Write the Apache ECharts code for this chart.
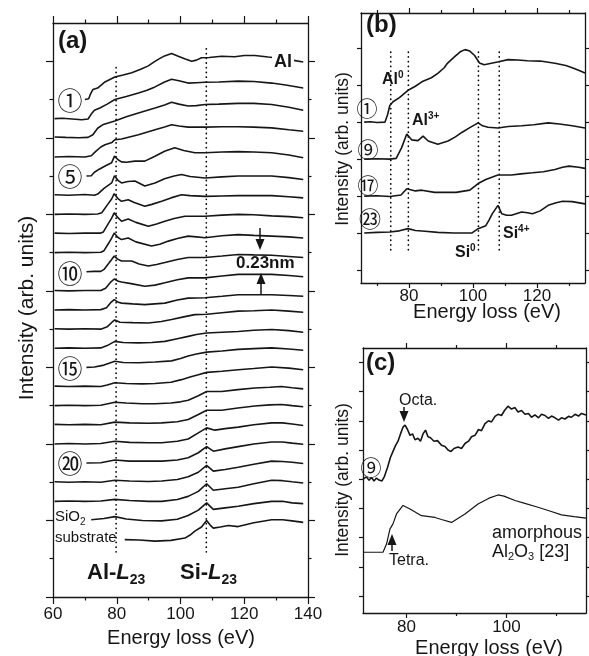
<!DOCTYPE html>
<html>
<head>
<meta charset="utf-8">
<script src="https://cdn.jsdelivr.net/npm/echarts@6/dist/echarts.min.js"></script>
<style>
html, body { margin: 0; padding: 0; background: #fff; }
#chart { width: 589px; height: 656px; }
</style>
</head>
<body>
<div id="chart"></div>
<script>
// energy loss (eV) / relative intensity
// (a) layer-by-layer spectra, top (1) to bottom (substrate)
var a01 = [[70,0],[71.2,0.02],[71.8,0.15],[72.5,0.26],[74,0.3],[76.3,0.46],[79.4,0.59],[82,0.64],[84.7,0.7],[87.5,0.79],[89.9,0.88],[91.5,0.97],[93,1.05],[95,1.14],[97.2,1.2],[99.3,1.13],[101.5,1.06],[103.5,1.0],[105,1.03],[106.6,1.09],[109,1.1],[112.9,1.13],[117,1.12],[120,1.15],[123.3,1.15],[127.5,1.11],[131,1.08],[135,1.03],[138.5,0.98]];
var a02 = [[60.5,0],[63,0.01],[66,-0.01],[69,-0.03],[71,-0.01],[72,0.12],[73,0.22],[74.7,0.28],[77,0.38],[79.4,0.5],[83,0.58],[86.8,0.67],[89.5,0.74],[92,0.83],[95,0.96],[97.2,1.03],[99.5,0.99],[102.4,0.93],[105,0.94],[107.7,0.95],[112,0.96],[118.1,0.98],[123,0.97],[128.6,0.93],[133,0.88],[138.5,0.8]];
var a03 = [[60.5,0.02],[64,0.01],[68,0],[71,0.01],[72.5,0.08],[74,0.25],[75.8,0.35],[79.4,0.44],[83,0.55],[86.8,0.65],[92,0.78],[95,0.86],[97.2,0.93],[99.5,0.88],[102.4,0.83],[105,0.84],[107.7,0.87],[112,0.88],[118.1,0.9],[123,0.9],[128.6,0.87],[134,0.8],[138.5,0.72]];
var a04 = [[60.5,0],[65,0.01],[70,0],[72,0.03],[73.5,0.15],[75,0.26],[76.3,0.32],[78.5,0.38],[79.4,0.45],[81.5,0.47],[86.8,0.58],[92,0.71],[95,0.78],[97.2,0.84],[99.5,0.81],[102.4,0.78],[107.7,0.78],[113,0.79],[118.1,0.79],[123,0.78],[128.6,0.76],[134,0.71],[138.5,0.67]];
var a05 = [[70.5,0],[72,0.01],[73,0.1],[74.5,0.18],[76.5,0.27],[78.4,0.35],[79.3,0.52],[80.5,0.42],[81.5,0.37],[83,0.36],[85.7,0.39],[88.8,0.39],[92,0.52],[95,0.65],[98.2,0.74],[101,0.67],[104.5,0.61],[107.7,0.61],[113,0.63],[118.1,0.64],[123,0.63],[128.6,0.61],[134,0.55],[138.5,0.48]];
var a06 = [[60.5,0.01],[65,0],[70,0.02],[73,0],[74.2,0.04],[76,0.18],[78.4,0.32],[79.3,0.51],[80.5,0.38],[81.5,0.32],[83.5,0.36],[85.7,0.37],[88.8,0.24],[92,0.32],[95,0.43],[98,0.5],[100.3,0.54],[103,0.49],[107.7,0.45],[113,0.48],[118.1,0.5],[123,0.5],[128.6,0.5],[134,0.46],[138.5,0.41]];
var a07 = [[60.5,0],[65,0.01],[70,0],[74,0.01],[75.3,0.04],[77,0.24],[78.4,0.4],[79.2,0.54],[80.3,0.42],[81.5,0.34],[83.6,0.38],[85.5,0.31],[88.8,0.21],[91,0.26],[94.1,0.34],[97,0.43],[100.3,0.51],[103,0.49],[107.7,0.47],[113,0.48],[118.1,0.49],[123,0.49],[128.6,0.49],[134,0.46],[138.5,0.43]];
var a08 = [[60.5,0.01],[65,0],[70,0.01],[75,0.01],[75.8,0.04],[77.3,0.25],[78.4,0.4],[79.2,0.54],[80.3,0.42],[81.5,0.32],[83.6,0.38],[86,0.29],[89.9,0.19],[92.5,0.25],[95.1,0.32],[98,0.39],[101.4,0.45],[104.5,0.45],[107.7,0.45],[113,0.48],[118.1,0.5],[123,0.49],[128.6,0.46],[134,0.44],[138.5,0.41]];
var a09 = [[60.5,0],[65,0.01],[70,0],[75,0.01],[76,0.05],[77.5,0.25],[78.4,0.38],[79.2,0.51],[80.3,0.4],[81.5,0.34],[83.6,0.38],[86,0.28],[90.9,0.17],[93.5,0.22],[96.2,0.3],[99,0.37],[102.4,0.43],[105,0.41],[107.7,0.39],[113,0.44],[118.1,0.47],[123,0.45],[128.6,0.43],[134,0.41],[138.5,0.38]];
var a10 = [[70.5,0],[73,0.01],[75,0.01],[76,0.06],[77.5,0.22],[78.4,0.32],[79.2,0.41],[80.3,0.33],[81.5,0.28],[84.7,0.28],[87,0.2],[89.9,0.15],[92.5,0.19],[95.1,0.24],[99,0.32],[102.4,0.37],[107.7,0.37],[113,0.41],[118.1,0.45],[123,0.44],[128.6,0.43],[134,0.4],[138.5,0.37]];
var a11 = [[60.5,0.01],[65,0],[70,0.01],[75,0.01],[76.5,0.07],[78,0.22],[79.2,0.31],[80.5,0.25],[81.5,0.23],[84.5,0.19],[88.8,0.12],[92,0.15],[95.1,0.21],[99,0.29],[102.4,0.34],[107.7,0.34],[113,0.39],[118.1,0.43],[123,0.43],[128.6,0.43],[134,0.4],[138.5,0.37]];
var a12 = [[60.5,0],[65,0.01],[70,0],[75,0.01],[76.8,0.06],[78.2,0.2],[79.2,0.27],[80.5,0.2],[81.5,0.18],[85,0.16],[88.8,0.14],[95.1,0.18],[99,0.26],[102.4,0.31],[107.7,0.32],[113,0.36],[118.1,0.4],[123,0.4],[128.6,0.4],[134,0.38],[138.5,0.36]];
var a13 = [[60.5,0.01],[65,0],[70,0.01],[75,0],[77,0.06],[78.5,0.18],[79.4,0.24],[81,0.18],[85,0.17],[89.9,0.16],[94,0.2],[97.2,0.25],[101,0.32],[104.5,0.38],[108.2,0.39],[113,0.43],[118.1,0.47],[123,0.48],[128.6,0.5],[134,0.47],[138.5,0.44]];
var a14 = [[60.5,0],[65,0.01],[70,0],[75,0.01],[77,0.07],[79.4,0.18],[82,0.15],[86.8,0.14],[91,0.15],[95.1,0.18],[99,0.25],[102.4,0.31],[105,0.36],[108.2,0.4],[113,0.42],[118.1,0.44],[123,0.47],[128.6,0.49],[134,0.46],[138.5,0.42]];
var a15 = [[70.5,0],[73,0.01],[76,0.06],[79.4,0.16],[82,0.13],[86.8,0.12],[92,0.14],[97.2,0.17],[100,0.23],[102.4,0.3],[105,0.35],[108.2,0.4],[113,0.43],[118.1,0.47],[123,0.49],[128.6,0.51],[134,0.48],[138.5,0.45]];
var a16 = [[60.5,0.01],[65,0],[70,0.01],[75,0],[77,0.04],[79.4,0.1],[83,0.08],[88,0.07],[92,0.08],[97,0.11],[100.3,0.18],[103,0.25],[105.6,0.31],[108.2,0.37],[113,0.4],[118.1,0.44],[123,0.47],[128.6,0.51],[134,0.48],[138.5,0.44]];
var a17 = [[60.5,0],[65,0.01],[70,0],[75,0.01],[79.4,0.09],[83,0.07],[88,0.05],[92,0.05],[97,0.07],[100,0.1],[102.4,0.14],[105.6,0.26],[108.2,0.37],[112.9,0.37],[118,0.42],[123.3,0.46],[128,0.48],[131.7,0.5],[135,0.47],[138.5,0.44]];
var a18 = [[60.5,0.01],[65,0],[70,0.01],[75,0],[79.4,0.07],[84,0.05],[90,0.04],[94.1,0.05],[99,0.08],[102.4,0.14],[105.6,0.27],[108.2,0.38],[112.9,0.38],[118,0.44],[123.3,0.49],[128,0.52],[131.7,0.53],[135,0.5],[138.5,0.47]];
var a19 = [[60.5,0],[65,0.01],[70,0],[75,0.01],[79.4,0.07],[84,0.04],[90,0.03],[94.1,0.03],[99,0.07],[102.4,0.13],[105.6,0.29],[108.2,0.42],[110.8,0.36],[114,0.4],[118.1,0.44],[123,0.5],[128.6,0.55],[132,0.55],[135,0.52],[138.5,0.48]];
var a20 = [[70.5,0],[75,0.01],[79.4,0.08],[84,0.05],[90,0.05],[94.1,0.05],[99,0.08],[102.4,0.14],[105.6,0.27],[108.2,0.43],[110.3,0.31],[114,0.37],[118.1,0.43],[123,0.5],[128.6,0.55],[132,0.55],[135,0.52],[138.5,0.49]];
var a21 = [[60.5,0.01],[65,0],[70,0.01],[75,0],[79.4,0.05],[84,0.03],[90,0.02],[94.1,0.03],[99,0.07],[102.4,0.14],[105.6,0.26],[108.2,0.44],[110.3,0.29],[114,0.33],[118.1,0.39],[123,0.47],[128.6,0.55],[132,0.54],[135,0.52],[138.5,0.49]];
var a22 = [[60.5,0],[65,0.01],[70,0],[75,0.01],[79.4,0.05],[84,0.02],[90,0],[94.1,0],[99,0.05],[102.4,0.13],[105.6,0.26],[108.2,0.46],[110.3,0.29],[114,0.33],[118.1,0.37],[123,0.46],[128.6,0.55],[132,0.54],[135,0.51],[138.5,0.48]];
var a23 = [[72,0.02],[76,0.05],[79.4,0.1],[83,0.04],[88,0],[94.1,-0.01],[99,0.03],[102.4,0.13],[105.6,0.27],[108.2,0.46],[110.3,0.29],[114,0.33],[118.1,0.37],[123,0.44],[128.6,0.5],[132,0.5],[135,0.46],[138.5,0.44]];
var a24 = [[82.5,0],[87,-0.01],[92,-0.04],[97,-0.02],[101.4,0.04],[103,0.12],[104.5,0.22],[106.6,0.33],[108.2,0.5],[109.3,0.38],[110.3,0.3],[112.5,0.33],[115,0.37],[118.1,0.34],[123,0.44],[128.6,0.52],[132,0.52],[135,0.49],[138.5,0.45]];
var tracesA = [a01,a02,a03,a04,a05,a06,a07,a08,a09,a10,a11,a12,a13,a14,a15,a16,a17,a18,a19,a20,a21,a22,a23,a24];
var edgesA = [79.8, 108.1];            // Al-L23, Si-L23

// (b) layers 1, 9, 17, 23
var b01 = [[66,0],[68,0.01],[70,-0.01],[72.5,0],[73.3,0.2],[74,0.45],[75,0.55],[77,0.66],[79.7,0.86],[82,0.97],[84,1.09],[87,1.2],[89,1.32],[91,1.47],[92,1.59],[94,1.75],[96,1.9],[97.5,1.96],[99,1.92],[100.5,1.8],[102,1.6],[103.5,1.55],[105,1.58],[108,1.63],[111,1.69],[114,1.68],[117,1.66],[121,1.65],[125.6,1.59],[129,1.53],[131,1.47],[133,1.4],[135,1.33]];
var b09 = [[66,0],[70,0.01],[74,0],[76,0.02],[77.7,0.31],[79.3,0.68],[80.8,0.52],[82.8,0.5],[84.4,0.62],[86,0.49],[89,0.4],[92.2,0.49],[94.5,0.6],[96.5,0.72],[99,0.85],[101.6,0.98],[103,0.9],[104.7,0.86],[107.8,0.84],[111,0.88],[115.2,0.9],[119,0.93],[123.5,0.98],[127,0.95],[131,0.9],[135,0.84]];
var b17 = [[66,0],[70,0.01],[74,-0.01],[77.5,0.03],[79.3,0.2],[82,0.14],[84,0.16],[88,0.1],[94.7,0.1],[99,0.16],[101.6,0.34],[104,0.45],[107.8,0.57],[112,0.57],[115,0.6],[118.6,0.63],[122,0.66],[125.6,0.72],[128,0.78],[130,0.81],[133,0.78],[135,0.75]];
var b23 = [[66,0],[70,0.02],[74,0.03],[77,0.06],[79.7,0.12],[82,0.07],[85,0.05],[89,0.02],[94,0],[99.6,0],[101.6,0.12],[104,0.2],[105,0.35],[106,0.52],[107.8,0.75],[109,0.52],[110.5,0.48],[112,0.48],[115.2,0.57],[117,0.55],[118.6,0.52],[121,0.6],[123.5,0.75],[126,0.82],[128,0.86],[131,0.85],[135,0.79]];
var tracesB = [b01, b09, b17, b23];
var edgesB = [74.3, 79.8, 101.7, 108.2];  // Al0, Al3+, Si0, Si4+

// (c) layer 9 vs amorphous Al2O3
var c09 = [[71.3,0],[72,0.08],[72.5,-0.04],[73,0.06],[73.5,-0.06],[74,0.04],[74.5,-0.03],[75.1,-0.06],[75.6,0.1],[76.2,0.4],[76.8,0.75],[77.3,0.95],[77.8,1.15],[78.3,1.3],[78.8,1.55],[79.3,1.78],[79.7,1.85],[80.2,1.7],[80.7,1.5],[81.2,1.55],[81.7,1.35],[82.3,1.4],[82.8,1.3],[83.3,1.55],[83.8,1.68],[84.3,1.45],[84.8,1.42],[85.5,1.3],[86.2,1.32],[87,1.16],[87.7,1.12],[88.3,1.0],[88.9,0.95],[89.5,1.05],[90.3,1.1],[91,1.05],[91.7,1.22],[92.4,1.3],[93,1.45],[93.7,1.5],[94.4,1.7],[95,1.66],[95.7,1.9],[96.4,2.0],[97,1.96],[97.7,2.15],[98.3,2.22],[99,2.18],[99.6,2.35],[100.3,2.5],[101,2.4],[101.7,2.45],[102.3,2.3],[103,2.35],[103.7,2.22],[104.4,2.25],[105,2.12],[105.7,2.2],[106.4,2.1],[107,2.22],[107.7,2.18],[108.4,2.08],[109,2.16],[109.7,2.1],[110.4,2.02],[111,2.1],[111.7,2.06],[112.4,2.15],[113,2.12],[113.7,2.22],[114.4,2.16],[115,2.25],[115.9,2.2]];
var cAmor = [[71.3,0],[73,0],[75.3,0],[76,0.28],[76.7,0.8],[77.3,0.97],[78,1.31],[79.3,1.6],[80.7,1.48],[83,1.25],[85.7,1.19],[87,1.12],[89,1.02],[91.7,1.31],[94.3,1.65],[96.5,1.85],[98.3,1.96],[99.5,1.92],[101.7,1.77],[103.5,1.68],[106.3,1.54],[108.5,1.42],[111,1.28],[113.5,1.22],[115.9,1.17]];

var FONT = '"Liberation Sans", Arial, Helvetica, sans-serif';
var CJK = '"Noto Sans CJK JP", "Noto Sans CJK SC", sans-serif';
var INK = '#161616';

// 坐标轴: 4 x + 4 y per grid (bottom/top, major/minor)
function oneAxis(gi, pos, range, ticks, len, labels, lineOn, labelSize, margin) {
    return {
        type: 'value', gridIndex: gi, position: pos, min: range[0], max: range[1],
        axisLine: { show: lineOn, onZero: false, lineStyle: { color: INK, width: 1.3 } },
        axisTick: { show: ticks.length > 0, customValues: ticks, length: len, inside: false, lineStyle: { color: INK, width: 1.2 } },
        axisLabel: labels ? { show: true, customValues: labels, color: INK, fontSize: labelSize, fontFamily: FONT, margin: margin } : { show: false },
        splitLine: { show: false }
    };
}

function frame(gi, xr, yr, xMaj, xMin, yMaj, yMin, lens, xLabels, labelSize, margin) {
    var xs = [
        oneAxis(gi, 'bottom', xr, xMaj, lens[0], xLabels, true, labelSize, margin),
        oneAxis(gi, 'bottom', xr, xMin, lens[1], null, false),
        oneAxis(gi, 'top', xr, xMaj, lens[0], null, true),
        oneAxis(gi, 'top', xr, xMin, lens[1], null, false)
    ];
    var ys = [
        oneAxis(gi, 'left', yr, yMaj, lens[2], null, true),
        oneAxis(gi, 'left', yr, yMin, lens[3], null, false),
        oneAxis(gi, 'right', yr, yMaj, lens[2], null, true),
        oneAxis(gi, 'right', yr, yMin, lens[3], null, false)
    ];
    return { x: xs, y: ys };
}

var fa = frame(0, [60, 140], [0, 15], [60, 80, 100, 120, 140], [70, 90, 110, 130],
    [0, 2, 4, 6, 8, 10, 12, 14], [1, 3, 5, 7, 9, 11, 13], [7, 3.5, 7, 3.5], [60, 80, 100, 120, 140], 17, 9);
var fb = frame(1, [65, 135], [-0.35, 6.95], [80, 100, 120], [70, 90, 110, 130],
    [0, 1, 2, 3, 4, 5, 6], [], [5, 3, 4, 0], [80, 100, 120], 17, 5);
var fc = frame(2, [71.3, 115.9], [-0.58, 8.49], [80, 100], [90, 110],
    [0, 1, 2, 3, 4, 5, 6, 7, 8], [], [5, 3, 4, 0], [80, 100], 17, 6);

function trace(gi, pts, base, width) {
    return {
        type: 'line', xAxisIndex: gi * 4, yAxisIndex: gi * 4,
        data: pts.map(function (p) { return [p[0], p[1] + base]; }),
        symbol: 'none', silent: true, animation: false, z: 3,
        lineStyle: { color: INK, width: width }
    };
}

function dots(gi, x, y0, y1) {
    return {
        type: 'line', xAxisIndex: gi * 4, yAxisIndex: gi * 4,
        data: [[x, y0], [x, y1]], symbol: 'none', silent: true, animation: false, z: 2,
        lineStyle: { color: '#000', width: 1.7, type: [0.1, 4.6], cap: 'round' }
    };
}

var series = [];
tracesA.forEach(function (t, i) { series.push(trace(0, t, 13 - 0.5 * i, 1.6)); });
series.push(dots(0, edgesA[0], 1.18, 13.95));
series.push(dots(0, edgesA[1], 1.18, 14.37));
tracesB.forEach(function (t, i) { series.push(trace(1, t, 4 - i, 1.6)); });
edgesB.forEach(function (e) { series.push(dots(1, e, 0.55, 5.95)); });
series.push(trace(2, c09, 4, 1.6));
series.push(trace(2, cAmor, 1.5, 1.2));

// 文字
var measureCtx = document.createElement('canvas').getContext('2d');
function wid(s, size, bold, italic) {
    measureCtx.font = (italic ? 'italic ' : '') + (bold ? 'bold ' : '') + size + 'px ' + FONT;
    return measureCtx.measureText(s).width;
}

function txt(x, y, s, size, o) {
    o = o || {};
    var st = {
        text: s, fill: INK, fontSize: size, fontFamily: o.family || FONT,
        fontWeight: o.bold ? 'bold' : 'normal', fontStyle: o.italic ? 'italic' : 'normal',
        align: o.align || 'left', verticalAlign: 'middle'
    };
    if (o.bg) { st.backgroundColor = o.bg; st.padding = [1, 2]; }
    return { type: 'text', x: x, y: y, rotation: o.rot || 0, z: 50, style: st };
}

function seq(x, y, parts) {
    var out = [];
    parts.forEach(function (p) {
        out.push(txt(x, y + (p.dy || 0), p.t, p.s, { bold: p.b, italic: p.i }));
        x += wid(p.t, p.s, p.b, p.i);
    });
    return out;
}

function arrow(x, y0, y1) {
    var d = y1 > y0 ? 1 : -1;
    return [
        { type: 'line', z: 50, shape: { x1: x, y1: y0, x2: x, y2: y1 - d * 6 }, style: { stroke: INK, lineWidth: 1.5 } },
        { type: 'polygon', z: 50, shape: { points: [[x - 4.5, y1 - d * 11], [x + 4.5, y1 - d * 11], [x, y1]] }, style: { fill: INK } }
    ];
}

var g = [];
// (a)
g.push(txt(58, 41, '(a)', 24, { bold: true }));
g.push(txt(27, 308, 'Intensity (arb. units)', 21, { rot: Math.PI / 2, align: 'center' }));
g.push(txt(181, 638, 'Energy loss (eV)', 20, { align: 'center' }));
g.push(txt(272, 62, 'Al', 18, { bold: true, bg: '#fff' }));
[['①', 100], ['⑤', 176], ['⑩', 273], ['⑮', 368], ['⑳', 463]].forEach(function (c) {
    g.push(txt(70, c[1], c[0], 25, { family: CJK, align: 'center' }));
});
g = g.concat(seq(55, 517, [{ t: 'SiO', s: 15 }, { t: '2', s: 10, dy: 5 }]));
g.push(txt(55, 538, 'substrate', 15));
g = g.concat(seq(87, 573, [{ t: 'Al-', s: 22, b: true }, { t: 'L', s: 22, b: true, i: true }, { t: '23', s: 14, b: true, dy: 7 }]));
g = g.concat(seq(180, 573, [{ t: 'Si-', s: 22, b: true }, { t: 'L', s: 22, b: true, i: true }, { t: '23', s: 14, b: true, dy: 7 }]));
g.push(txt(236, 263, '0.23nm', 17, { bold: true }));
g = g.concat(arrow(260, 228, 250));
g = g.concat(arrow(261, 295, 273));
// (b)
g.push(txt(366, 25, '(b)', 24, { bold: true }));
g.push(txt(343, 149, 'Intensity (arb. units)', 17.5, { rot: Math.PI / 2, align: 'center' }));
g.push(txt(487, 312, 'Energy loss (eV)', 20, { align: 'center' }));
g = g.concat(seq(382, 80, [{ t: 'Al', s: 16, b: true }, { t: '0', s: 10, b: true, dy: -5 }]));
g = g.concat(seq(412, 121, [{ t: 'Al', s: 16, b: true }, { t: '3+', s: 10, b: true, dy: -5 }]));
g = g.concat(seq(455, 253, [{ t: 'Si', s: 16, b: true }, { t: '0', s: 10, b: true, dy: -5 }]));
g = g.concat(seq(503, 234, [{ t: 'Si', s: 16, b: true }, { t: '4+', s: 10, b: true, dy: -5 }]));
[['①', 367, 108, 21], ['⑨', 368, 149, 21], ['⑰', 368, 185, 21], ['㉓', 370, 219, 22]].forEach(function (c) {
    g.push(txt(c[1], c[2], c[0], c[3], { family: CJK, align: 'center' }));
});
// (c)
g.push(txt(366, 363, '(c)', 24, { bold: true }));
g.push(txt(343, 480, 'Intensity (arb. units)', 17.5, { rot: Math.PI / 2, align: 'center' }));
g.push(txt(489, 648, 'Energy loss (eV)', 20, { align: 'center' }));
g.push(txt(371, 467, '⑨', 21, { family: CJK, align: 'center' }));
g.push(txt(399, 401, 'Octa.', 16));
g = g.concat(arrow(404, 407, 422));
g.push(txt(389, 561, 'Tetra.', 16));
g = g.concat(arrow(392, 551, 534));
g.push(txt(492, 533, 'amorphous', 18));
g = g.concat(seq(492, 552, [{ t: 'Al', s: 18 }, { t: '2', s: 11, dy: 5 }, { t: 'O', s: 18 }, { t: '3', s: 11, dy: 5 }, { t: ' [23]', s: 18 }]));

var chart = echarts.init(document.getElementById('chart'));
chart.setOption({
    animation: false,
    backgroundColor: '#fff',
    grid: [
        { left: 53, top: 23, width: 255, height: 574 },
        { left: 361, top: 13, width: 224, height: 270 },
        { left: 363, top: 348, width: 223, height: 265 }
    ],
    xAxis: fa.x.concat(fb.x, fc.x),
    yAxis: fa.y.concat(fb.y, fc.y),
    series: series,
    graphic: { elements: g }
});
</script>
</body>
</html>
